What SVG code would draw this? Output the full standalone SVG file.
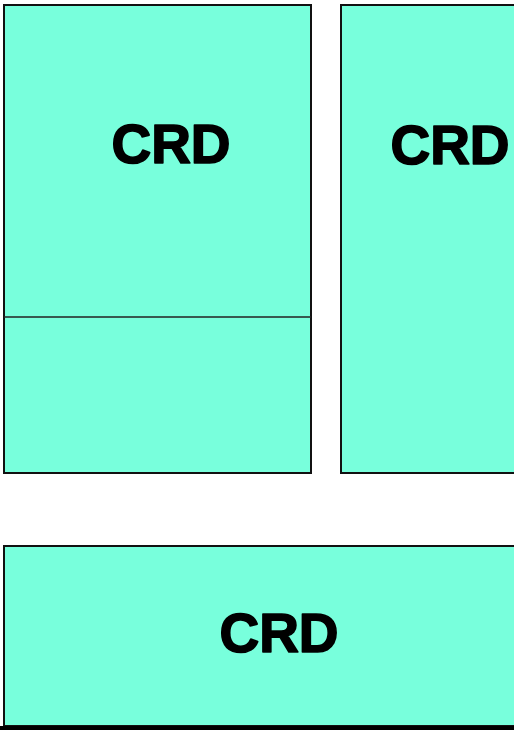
<svg xmlns="http://www.w3.org/2000/svg" width="514" height="730" viewBox="0 0 514 730">
<style>
.box{fill:#78ffdc;stroke:#111;stroke-width:2}
.lbl{font-family:"Liberation Sans",Arial,sans-serif;font-weight:bold;font-size:55px;fill:#000;stroke:#000;stroke-width:1.6;stroke-linejoin:round;text-anchor:middle}
</style>
<rect width="514" height="730" fill="#fff"/>
<g id="node-left">
<rect class="box" x="4" y="5" width="307" height="468"/>
<line x1="4" y1="317" x2="311" y2="317" stroke="#222" stroke-width="1.5"/>
<text class="lbl" x="171" y="163">CRD</text>
</g>
<g id="node-right">
<rect class="box" x="341" y="5" width="180" height="468"/>
<text class="lbl" x="450" y="164">CRD</text>
</g>
<g id="node-bottom">
<rect class="box" x="4" y="546" width="520" height="180"/>
<line x1="0" y1="728" x2="514" y2="728" stroke="#000" stroke-width="4"/>
<text class="lbl" x="279" y="652">CRD</text>
</g>
<g id="connectors"></g>
</svg>
